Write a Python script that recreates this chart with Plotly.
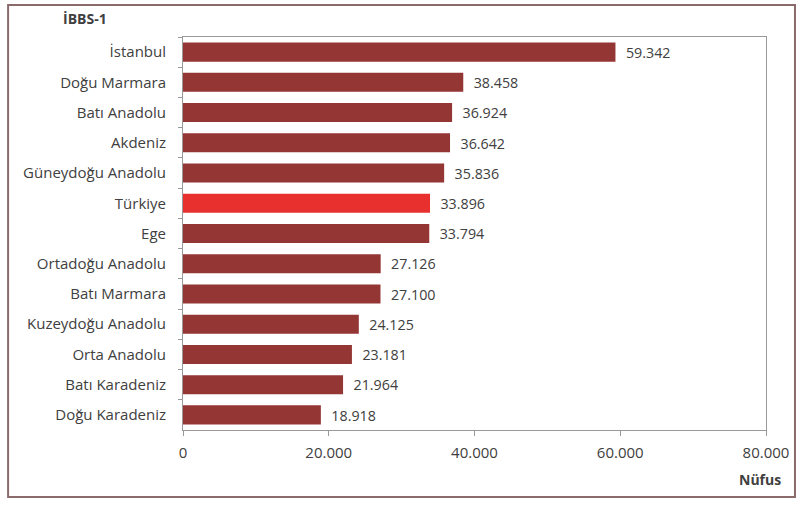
import plotly.graph_objects as go

regions = ["İstanbul", "Doğu Marmara", "Batı Anadolu", "Akdeniz", "Güneydoğu Anadolu",
           "Türkiye", "Ege", "Ortadoğu Anadolu", "Batı Marmara", "Kuzeydoğu Anadolu",
           "Orta Anadolu", "Batı Karadeniz", "Doğu Karadeniz"]
values = [59342, 38458, 36924, 36642, 35836, 33896, 33794, 27126, 27100, 24125, 23181, 21964, 18918]
highlight = "Türkiye"
x_ticks = [0, 20000, 40000, 60000, 80000]

bar_color = "#943634"
hi_color = "#e8302e"
text_color = "#404040"
colors = [hi_color if r == highlight else bar_color for r in regions]

fig = go.Figure(go.Bar(
    y=regions, x=values, orientation="h",
    marker=dict(color=colors, line=dict(width=0)),
    texttemplate="\u00a0\u00a0%{x:,d}", textposition="outside", cliponaxis=False,
    textfont=dict(family="Open Sans", size=15, color=text_color),
    width=0.63,
))

fig.update_layout(
    width=800, height=505,
    margin=dict(l=183, r=34, t=37, b=75),
    paper_bgcolor="white", plot_bgcolor="white",
    separators=",.",
    showlegend=False,
    font=dict(family="Open Sans", size=15, color=text_color),
    xaxis=dict(range=[0, 80000], tickvals=x_ticks, tickformat=",d",
               showgrid=False, zeroline=False, showline=True, linecolor="#999999",
               linewidth=1, mirror=True, ticks="outside", ticklen=5, tickcolor="#999999",
               ticklabelstandoff=4,
               tickfont=dict(size=15, color=text_color)),
    yaxis=dict(autorange="reversed", showgrid=False, showline=True, linecolor="#999999",
               linewidth=1, mirror=True, ticks="outside", ticklen=4, tickcolor="#999999",
               tickson="boundaries", ticklabelstandoff=13,
               tickfont=dict(size=15, color=text_color)),
    annotations=[
        dict(text="<b>İBBS-1</b>", xref="paper", yref="paper", x=-0.209, y=1.048,
             xanchor="left", yanchor="middle", showarrow=False,
             font=dict(size=14, color=text_color)),
        dict(text="<b>Nüfus</b>", xref="paper", yref="paper", x=1.029, y=-0.127,
             xanchor="right", yanchor="middle", showarrow=False,
             font=dict(size=14, color=text_color)),
    ],
    shapes=[dict(type="rect", xref="paper", yref="paper", x0=-0.300, x1=1.0497,
                 y0=-0.1705, y1=1.0814, line=dict(color="#8a6a6a", width=2))],
)

fig.write_html("out.html", config={"displayModeBar": False},
               post_script="document.body.style.margin='0';")
